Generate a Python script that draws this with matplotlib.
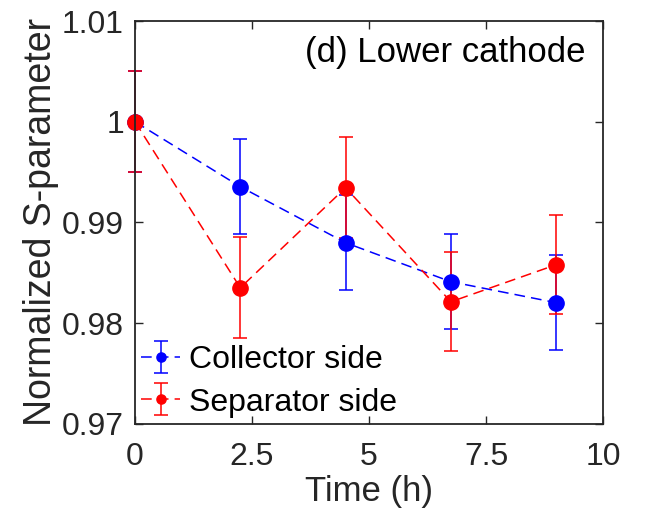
import matplotlib
matplotlib.use('agg')
import matplotlib.pyplot as plt

# time points (h)
time_h = [0, 2.25, 4.5, 6.75, 9]

# collector side
collector_s = [1.0, 0.99355, 0.98799, 0.98412, 0.98204]
collector_err = [0.0050, 0.0047, 0.0047, 0.0047, 0.0047]

# separator side
separator_s = [1.0, 0.98352, 0.99345, 0.98213, 0.98581]
separator_err = [0.0050, 0.0050, 0.0050, 0.0049, 0.0049]

xticks = [0, 2.5, 5, 7.5, 10]
xticklabels = ['0', '2.5', '5', '7.5', '10']
yticks = [0.97, 0.98, 0.99, 1.0, 1.01]
yticklabels = ['0.97', '0.98', '0.99', '1', '1.01']

plt.rcParams['font.family'] = ['Liberation Sans', 'DejaVu Sans']
axcol = '#262626'

fig = plt.figure(figsize=(6.45, 5.25), dpi=100)
ax = fig.add_axes([0.2093, 0.1924, 0.7256, 0.7676])

for ys, err, col, lab in [(collector_s, collector_err, '#0000ff', 'Collector side'),
                          (separator_s, separator_err, '#ff0000', 'Separator side')]:
    eb = ax.errorbar(time_h, ys, yerr=err, color=col,
                     linestyle=(0, (7, 4)), linewidth=1.1, marker='o',
                     markersize=11, capsize=5, capthick=1.1, elinewidth=1.1,
                     label=lab)
    for art in eb.lines[0:1] + tuple(eb.lines[1]) + tuple(eb.lines[2]):
        art.set_clip_on(False)

ax.set_xlim(0, 10)
ax.set_ylim(0.97, 1.01)
ax.set_xticks(xticks)
ax.set_xticklabels(xticklabels)
ax.set_yticks(yticks)
ax.set_yticklabels(yticklabels)

ax.tick_params(direction='in', length=6, width=1, top=True, right=True,
               labelsize=23, colors=axcol, pad=8)
ax.tick_params(axis='x', pad=13)
for sp in ax.spines.values():
    sp.set_color(axcol)
    sp.set_linewidth(1.3)

ax.set_xlabel('Time (h)', fontsize=25, color=axcol, labelpad=2)
ax.set_ylabel('Normalized S-parameter', fontsize=27, color=axcol, labelpad=2)

ax.text(0.963, 0.923, '(d) Lower cathode', transform=ax.transAxes,
        ha='right', va='center', fontsize=25, color='black')

ax.legend(loc='lower left', frameon=False, fontsize=23, handlelength=1.2,
          handletextpad=0.3, borderaxespad=0.0, labelspacing=0.38,
          borderpad=0.2, markerscale=0.6)

fig.savefig('out.png', dpi=100)
